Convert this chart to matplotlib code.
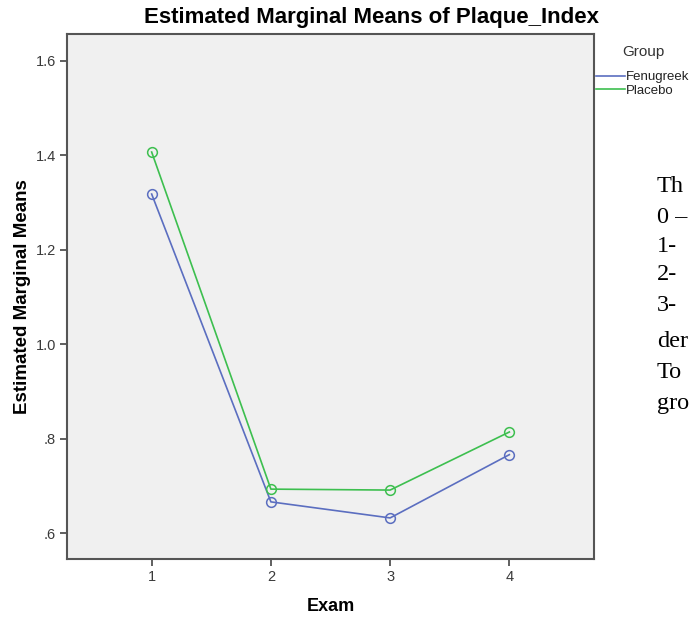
import matplotlib
matplotlib.use("Agg")
import matplotlib.pyplot as plt
from matplotlib.lines import Line2D

# .----------------------------------------------------------------------------.
# Data

exams = [1, 2, 3, 4]
fenugreek = [1.318, 0.666, 0.632, 0.766]
placebo = [1.407, 0.693, 0.691, 0.814]
yticks = [0.6, 0.8, 1.0, 1.2, 1.4, 1.6]
ytick_labels = [".6", ".8", "1.0", "1.2", "1.4", "1.6"]
side_text = ["Th", "0 \u2013", "1-", "2-", "3-", "der", "To", "gro"]

# .----------------------------------------------------------------------------.

W, H = 690, 618
fig = plt.figure(figsize=(W / 100, H / 100), dpi=100)
plt.rcParams['font.family'] = ['Liberation Sans', 'DejaVu Sans']

# axes box in pixels: left 67, right 594, top 34, bottom 559
ax = fig.add_axes([67 / W, 1 - 559 / H, (594 - 67) / W, (559 - 34) / H])
ax.set_facecolor("#f0f0f0")

blue = "#5b6ec0"
green = "#3dbf4f"
ax.plot(exams, fenugreek, color=blue, lw=1.2, marker="o", ms=7,
        mfc="none", mec=blue, mew=1.1)
ax.plot(exams, placebo, color=green, lw=1.2, marker="o", ms=7,
        mfc="none", mec=green, mew=1.1)

ax.set_xlim(0.29, 4.71)
ax.set_ylim(0.545, 1.657)
ax.set_xticks(exams)
ax.set_xticklabels([str(e) for e in exams])
ax.set_yticks(yticks)
ax.set_yticklabels(ytick_labels)
ax.tick_params(direction="out", length=5, width=1.2, color="#444444",
               labelsize=10.5, labelcolor="#3a3a3a", pad=3)

for s in ax.spines.values():
    s.set_color("#555555")
    s.set_linewidth(1.5)

ax.set_xlabel("Exam", fontsize=13, fontweight="bold", labelpad=10)
ax.set_ylabel("Estimated Marginal Means", fontsize=13.5, fontweight="bold", labelpad=3)

fig.text(371 / W, 1 - 18 / H, "Estimated Marginal Means of Plaque_Index",
         ha="center", va="center", fontsize=16, fontweight="bold")

# legend: lines only, on the right edge
fig.text(622 / W, 1 - 52 / H, "Group", ha="left", va="center", fontsize=11,
         color="#333333")
handles = [Line2D([], [], color=blue, lw=1.2), Line2D([], [], color=green, lw=1.2)]
leg = fig.legend(handles, ["Fenugreek", "Placebo"], loc="upper left",
                 bbox_to_anchor=(596 / W, 1 - 71 / H), frameon=False, fontsize=9.5,
                 handlelength=2.2, handletextpad=0.05, borderaxespad=0,
                 borderpad=0, labelspacing=0.12)
for t in leg.get_texts():
    t.set_color("#222222")

# cut-off serif text on the right
ys = [186, 218, 247, 275, 305, 341, 373, 404]
for txt, y in zip(side_text, ys):
    fig.text(657 / W, 1 - y / H, txt, ha="left", va="center", fontsize=17.5,
             family="Liberation Serif")

fig.savefig("out.png", dpi=100)
